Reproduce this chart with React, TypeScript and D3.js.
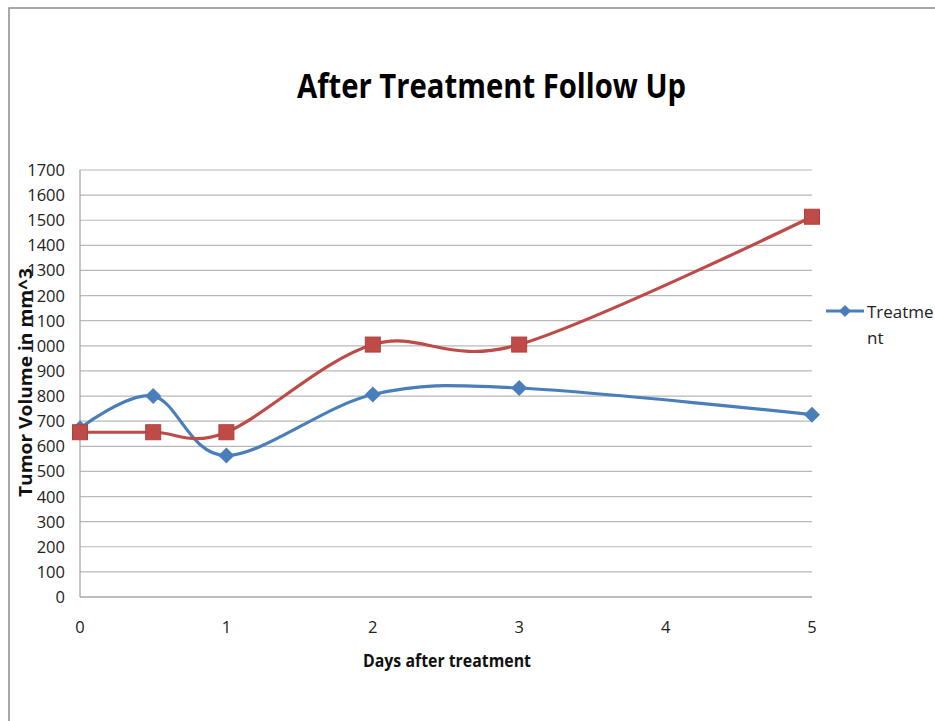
import React from 'react';
import * as d3 from 'd3';

const days = [0, 0.5, 1, 2, 3, 5];
const seriesBlue = [672, 800, 563, 806, 832, 726];
const seriesRed = [656, 656, 656, 1005, 1005, 1514];
const yTicks = d3.range(0, 1701, 100);
const xTicks = [0, 1, 2, 3, 4, 5];
const legendLines = ['Treatme', 'nt'];

const FONT = '"Open Sans", sans-serif';
const BLUE = '#4a7ebb';
const RED = '#be4b48';

export default function App() {
  const width = 935;
  const height = 721;
  const x = d3.scaleLinear().domain([0, 5]).range([80, 812]);
  const y = d3.scaleLinear().domain([0, 1700]).range([597, 170]);

  const line = d3
    .line<number>()
    .x((_, i) => x(days[i]))
    .y((d) => y(d))
    .curve(d3.curveCardinal.tension(0));

  const diamond = (cx: number, cy: number, r: number) =>
    `M${cx},${cy - r}L${cx + r},${cy}L${cx},${cy + r}L${cx - r},${cy}Z`;

  return (
    <svg
      width={width}
      height={height}
      style={{ position: 'absolute', left: 0, top: 0, background: '#fff' }}
    >
      {/* outer frame */}
      <path d={`M9,${height}V8H${width}`} fill="none" stroke="#8c8c8c" strokeWidth={1.5} />

      <text
        x={297}
        y={98}
        textLength={389}
        lengthAdjust="spacingAndGlyphs"
        fontFamily={FONT}
        fontWeight="bold"
        fontSize={34}
        fill="#000"
      >
        After Treatment Follow Up
      </text>

      {/* gridlines */}
      {yTicks.map((t) => (
        <line key={t} x1={80} x2={812} y1={y(t)} y2={y(t)} stroke="#b8b8b8" strokeWidth={1.2} />
      ))}
      <line x1={80} x2={80} y1={170} y2={597} stroke="#a0a0a0" strokeWidth={1.2} />
      <line x1={80} x2={812} y1={597} y2={597} stroke="#a0a0a0" strokeWidth={1.2} />

      {yTicks.map((t) => (
        <text
          key={t}
          x={65}
          y={y(t) + 6}
          textAnchor="end"
          fontFamily={FONT}
          fontSize={16.5}
          fill="#222"
        >
          {t}
        </text>
      ))}
      {xTicks.map((t) => (
        <text
          key={t}
          x={x(t)}
          y={633}
          textAnchor="middle"
          fontFamily={FONT}
          fontSize={16.5}
          fill="#222"
        >
          {t}
        </text>
      ))}

      <text
        x={363}
        y={667}
        textLength={168}
        lengthAdjust="spacingAndGlyphs"
        fontFamily={FONT}
        fontWeight="bold"
        fontSize={17}
        fill="#111"
      >
        Days after treatment
      </text>
      <text
        transform="translate(32,497) rotate(-90)"
        textLength={229}
        lengthAdjust="spacingAndGlyphs"
        fontFamily={FONT}
        fontWeight="bold"
        fontSize={17.5}
        fill="#111"
      >
        Tumor Volume in mm^3
      </text>

      {/* series */}
      <path d={line(seriesBlue) || ''} fill="none" stroke={BLUE} strokeWidth={3.2} />
      <path d={line(seriesRed) || ''} fill="none" stroke={RED} strokeWidth={3.2} />
      {seriesBlue.map((v, i) => (
        <path key={i} d={diamond(x(days[i]), y(v), 8)} fill={BLUE} />
      ))}
      {seriesRed.map((v, i) => (
        <rect
          key={i}
          x={x(days[i]) - 7.5}
          y={y(v) - 7.5}
          width={15}
          height={15}
          fill={RED}
          stroke="#b0403d"
          strokeWidth={1}
        />
      ))}

      {/* legend */}
      <line x1={826} x2={864} y1={311} y2={311} stroke={BLUE} strokeWidth={3.2} />
      <path d={diamond(845, 311, 6)} fill={BLUE} />
      {legendLines.map((s, i) => (
        <text
          key={s}
          x={867}
          y={318 + i * 26}
          fontFamily={FONT}
          fontSize={17}
          fill="#222"
        >
          {s}
        </text>
      ))}
    </svg>
  );
}
